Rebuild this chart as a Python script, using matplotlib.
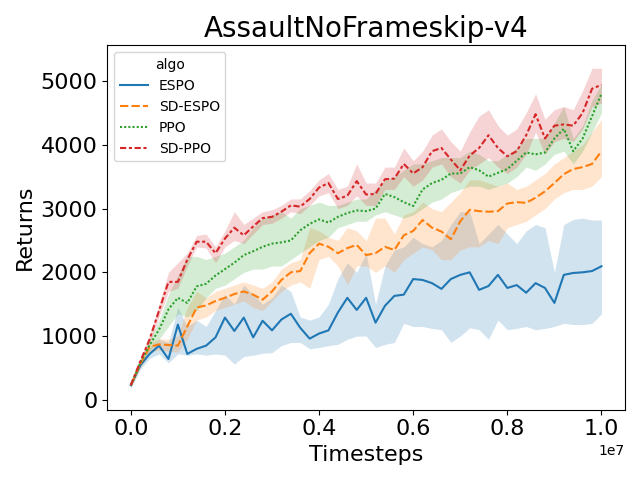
import numpy as np
import matplotlib
matplotlib.use("Agg")
import matplotlib.pyplot as plt

# timesteps (in units of 1e7), step 0.02
steps = np.linspace(0.0, 1.0, 51) * 1e7

algos = ["ESPO", "SD-ESPO", "PPO", "SD-PPO"]

espo_mean = [230, 540, 720, 850, 640, 1180, 720, 800, 850, 980,
             1290, 1080, 1290, 980, 1240, 1090, 1260, 1350, 1130, 960,
             1040, 1090, 1370, 1600, 1410, 1600, 1210, 1475, 1630, 1650,
             1895, 1880, 1830, 1740, 1895, 1960, 2000, 1725, 1785, 1960,
             1755, 1800, 1680, 1830, 1755, 1520, 1960, 1990, 2000, 2020,
             2095]
espo_low = [180, 480, 650, 720, 580, 720, 700, 720, 700, 720,
            700, 560, 680, 700, 730, 740, 850, 900, 900, 800,
            820, 850, 870, 950, 1000, 1000, 820, 870, 900, 1200,
            1150, 1150, 1120, 1100, 900, 1000, 1130, 1100, 950, 1250,
            1100, 1120, 1150, 1100, 1120, 1150, 1200, 1180, 1180, 1200,
            1350]
espo_up = [280, 600, 800, 950, 900, 1450, 1150, 1250, 1150, 1400,
           1650, 1500, 1800, 1650, 1500, 1600, 1800, 1700, 1300, 1250,
           1300, 1500, 1900, 2150, 2000, 2300, 1500, 2100, 2350, 2400,
           2550, 2450, 2400, 2500, 2750, 2950, 2950, 2450, 2600, 2750,
           2600, 2450, 2650, 2750, 2700, 2000, 2750, 2830, 2850, 2820,
           2820]

sdespo_mean = [230, 560, 830, 870, 860, 850, 1150, 1450, 1480, 1550,
               1600, 1660, 1700, 1650, 1570, 1700, 1880, 2000, 2020, 2300,
               2450, 2400, 2300, 2380, 2430, 2270, 2300, 2400, 2350, 2580,
               2650, 2820, 2700, 2640, 2520, 2800, 2980, 2960, 2950, 2960,
               3080, 3100, 3090, 3170, 3270, 3400, 3540, 3620, 3650, 3700,
               3900]
sdespo_low = [200, 500, 750, 780, 760, 750, 950, 1250, 1300, 1400,
              1450, 1500, 1550, 1450, 1400, 1550, 1700, 1800, 1850, 1750,
              2200, 2250, 2100, 1800, 2100, 2100, 2000, 2100, 2000, 2200,
              2300, 2400, 2350, 2200, 2200, 2350, 2400, 2400, 2500, 2450,
              2700, 2750, 2800, 2900, 3000, 3150, 3250, 3300, 3300, 3350,
              3500]
sdespo_up = [260, 620, 900, 960, 950, 1000, 1450, 1700, 1600, 1700,
             1750, 1800, 1850, 1800, 1750, 1850, 2050, 2150, 2200, 2700,
             2650, 2550, 2500, 2700, 2650, 2500, 2850, 2850, 2600, 2900,
             2950, 3100, 3000, 2950, 3100, 3250, 3450, 3450, 3400, 3350,
             3400, 3300, 3350, 3450, 3550, 3700, 3800, 3900, 4000, 4200,
             4400]

ppo_mean = [230, 580, 860, 1100, 1420, 1600, 1520, 1780, 1820, 1950,
            2050, 2150, 2270, 2330, 2400, 2450, 2470, 2500, 2660, 2760,
            2830, 2780, 2870, 2930, 2970, 2960, 3000, 3230, 3180, 3100,
            3040, 3300, 3400, 3450, 3550, 3550, 3650, 3600, 3500, 3560,
            3620, 3750, 3880, 3850, 3880, 4100, 4250, 3900, 4100, 4450,
            4800]
ppo_low = [200, 520, 780, 950, 1150, 1350, 1300, 1400, 1600, 1750,
           1800, 1900, 2000, 2050, 2050, 2100, 2100, 2200, 2300, 2400,
           2500, 2550, 2700, 2750, 2800, 2800, 2900, 2950, 2900, 2850,
           2900, 3000, 3100, 3150, 3250, 3300, 3350, 3350, 3300, 3350,
           3400, 3500, 3650, 3600, 3700, 3850, 3900, 3700, 3900, 4200,
           4500]
ppo_up = [260, 640, 950, 1250, 1650, 1950, 2250, 2250, 2200, 2250,
          2300, 2400, 2500, 2700, 2850, 2900, 2950, 2850, 3000, 3050,
          3100, 3050, 3050, 3100, 3150, 3150, 3300, 3450, 3500, 3600,
          3700, 3700, 3750, 3800, 3800, 3800, 3900, 3850, 3750, 3750,
          3850, 3950, 4100, 4100, 4100, 4350, 4600, 4100, 4300, 4700,
          4950]

sdppo_mean = [230, 600, 950, 1400, 1850, 1850, 2200, 2480, 2480, 2300,
              2530, 2700, 2580, 2720, 2850, 2870, 2950, 3050, 3030, 3150,
              3330, 3400, 3150, 3200, 3430, 3220, 3230, 3460, 3470, 3700,
              3550, 3650, 3900, 3950, 3770, 3600, 3830, 3950, 4150, 3950,
              3820, 3900, 4150, 4480, 4100, 4300, 4320, 4300, 4500, 4880,
              4940]
sdppo_low = [200, 550, 880, 1300, 1700, 1750, 2100, 2400, 2380, 2150,
             2400, 2500, 2450, 2600, 2750, 2770, 2850, 2950, 2920, 3050,
             3200, 3250, 3000, 3050, 3200, 3050, 3050, 3300, 3300, 3500,
             3350, 3450, 3650, 3700, 3500, 3400, 3600, 3700, 3800, 3650,
             3550, 3650, 3850, 4200, 3850, 4050, 4100, 4050, 4250, 4600,
             4650]
sdppo_up = [260, 650, 1020, 1500, 2000, 2150, 2300, 2580, 2600, 2400,
            2650, 2950, 2750, 2850, 2950, 2980, 3050, 3150, 3150, 3280,
            3450, 3550, 3300, 3350, 3700, 3400, 3400, 3650, 3650, 3950,
            3750, 3900, 4150, 4250, 4050, 3900, 4200, 4450, 4550, 4300,
            4150, 4250, 4500, 4800, 4400, 4550, 4600, 4550, 4850, 5200,
            5200]

means = [espo_mean, sdespo_mean, ppo_mean, sdppo_mean]
lows = [espo_low, sdespo_low, ppo_low, sdppo_low]
ups = [espo_up, sdespo_up, ppo_up, sdppo_up]

colors = ["#1f77b4", "#ff7f0e", "#2ca02c", "#d62728"]
dashes = [(None, None), (4, 1.5), (1, 1), (3, 1.25, 1.5, 1.25)]

fig, ax = plt.subplots(figsize=(6.4, 4.8), dpi=100)
for name, m, lo, hi, c, d in zip(algos, means, lows, ups, colors, dashes):
    ax.fill_between(steps, lo, hi, color=c, alpha=0.2, linewidth=0)
    line, = ax.plot(steps, m, color=c, lw=1.5, label=name)
    if d[0] is not None:
        line.set_dashes(d)

ax.set_title("AssaultNoFrameskip-v4", fontsize=20)
ax.set_xlabel("Timesteps", fontsize=16)
ax.set_ylabel("Returns", fontsize=16)
ax.tick_params(labelsize=16)
ax.set_ylim(-155, 5560)
ax.legend(title="algo", loc="upper left")
fig.tight_layout()
fig.savefig("out.png")
